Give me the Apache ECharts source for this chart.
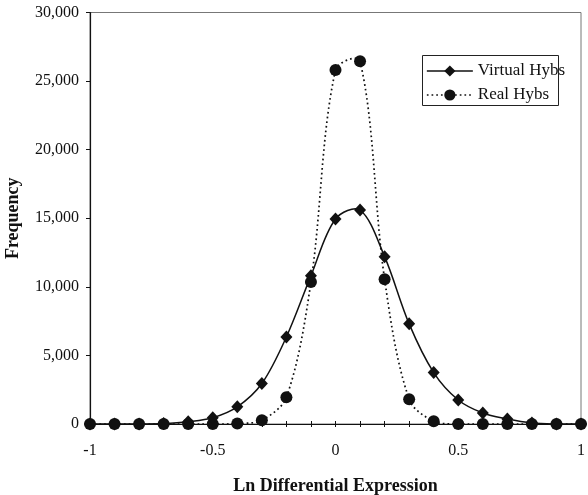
<!DOCTYPE html>
<html>
<head>
<meta charset="utf-8">
<script src="https://cdn.jsdelivr.net/npm/echarts@6/dist/echarts.min.js"></script>
<style>
  html, body { margin: 0; padding: 0; background: #fff; }
  #chart { width: 588px; height: 495px; }
</style>
</head>
<body>
<div id="chart"></div>
<script>
// Ln differential expression bins (-1 .. 1, step 0.1)
const lnExpression = [-1, -0.9, -0.8, -0.7, -0.6, -0.5, -0.4, -0.3, -0.2, -0.1, 0,
                      0.1, 0.2, 0.3, 0.4, 0.5, 0.6, 0.7, 0.8, 0.9, 1];
// Frequency counts per bin
const virtualHybs = [0, 0, 0, 30, 170, 460, 1250, 2950, 6350, 10800, 14950,
                     15600, 12200, 7300, 3750, 1750, 800, 370, 80, 0, 0];
const realHybs = [0, 0, 0, 0, 0, 0, 30, 280, 1950, 10350, 25800,
                  26450, 10550, 1800, 200, 0, 0, 0, 0, 0, 0];
const yTicks = [0, 5000, 10000, 15000, 20000, 25000, 30000];

const serif = '"Liberation Serif", "DejaVu Serif", serif';
const ink = '#111';
const toPairs = (xs, ys) => xs.map((x, i) => [x, ys[i]]);
const withCommas = v => String(v).replace(/\B(?=(\d{3})+(?!\d))/g, ',');

const virtualLine = { color: ink, width: 1.5, type: 'solid' };
const realLine = { color: ink, width: 1.7, type: [1.7, 3] };

// Spreadsheet-style smoothed curve: cubic Bezier segments whose tangents
// follow the neighbouring points, scaled by the relative segment lengths
// so short hops near a peak do not overshoot. Points come from the grid's
// own coordinate system.
function smoothCurve(values, lineStyle) {
  const dist = (a, b) => Math.hypot(b[0] - a[0], b[1] - a[1]);
  return function (params, api) {
    if (params.dataIndex !== 0) return null;
    const pts = lnExpression.map((x, i) => api.coord([x, values[i]]));
    const n = pts.length;
    const children = [];
    for (let i = 0; i < n - 1; i++) {
      const p0 = pts[Math.max(i - 1, 0)];
      const p1 = pts[i];
      const p2 = pts[i + 1];
      const p3 = pts[Math.min(i + 2, n - 1)];
      const d01 = dist(p0, p1), d12 = dist(p1, p2), d23 = dist(p2, p3);
      const f1 = (d01 + d12) > 0 ? d12 / (d01 + d12) / 3 : 0;
      const f2 = (d12 + d23) > 0 ? d12 / (d12 + d23) / 3 : 0;
      children.push({
        type: 'bezierCurve',
        shape: {
          x1: p1[0], y1: p1[1], x2: p2[0], y2: p2[1],
          cpx1: p1[0] + (p2[0] - p0[0]) * f1, cpy1: p1[1] + (p2[1] - p0[1]) * f1,
          cpx2: p2[0] - (p3[0] - p1[0]) * f2, cpy2: p2[1] - (p3[1] - p1[1]) * f2
        },
        style: {
          fill: null, stroke: lineStyle.color, lineWidth: lineStyle.width,
          lineDash: lineStyle.type === 'solid' ? null : lineStyle.type
        }
      });
    }
    return { type: 'group', children };
  };
}

const chart = echarts.init(document.getElementById('chart'), null, { renderer: 'canvas' });

chart.setOption({
  animation: false,
  backgroundColor: '#fff',
  grid: {
    left: 90, right: 7, top: 12.5, bottom: 71,
    outerBoundsMode: 'none',
    show: true, borderColor: '#777', borderWidth: 1, backgroundColor: 'transparent'
  },
  graphic: [{
    type: 'rect', z: 50,
    shape: { x: 422.5, y: 55.5, width: 136, height: 50 },
    style: { fill: '#fff', stroke: '#222', lineWidth: 1 }
  }],
  legend: {
    z: 60,
    orient: 'vertical',
    left: 422, top: 62.5,
    padding: [0, 0, 0, 4],
    itemWidth: 46, itemHeight: 14, itemGap: 7,
    textStyle: { fontFamily: serif, fontSize: 17, color: ink, padding: [0, 0, 0, 0] },
    data: [
      { name: 'Virtual Hybs', lineStyle: Object.assign({ opacity: 1 }, virtualLine) },
      { name: 'Real Hybs', lineStyle: Object.assign({ opacity: 1 }, realLine) }
    ]
  },
  xAxis: [{
    type: 'value', min: -1, max: 1, interval: 0.1,
    name: 'Ln Differential Expression',
    nameLocation: 'middle', nameGap: 53,
    nameTextStyle: { fontFamily: serif, fontSize: 18, fontWeight: 'bold', color: ink },
    axisLine: { onZero: false, lineStyle: { color: ink, width: 1.2 } },
    axisTick: { show: true, inside: false, length: 3, lineStyle: { color: ink } },
    splitLine: { show: false },
    axisLabel: {
      fontFamily: serif, fontSize: 16, color: ink, margin: 19,
      formatter: v => {
        const r = Math.round(v * 10) / 10;
        return Math.abs(r * 2 - Math.round(r * 2)) < 1e-6 ? String(r) : '';
      }
    }
  }, {
    type: 'value', min: -1, max: 1, interval: 0.1, position: 'bottom',
    axisLine: { show: false, onZero: false },
    axisTick: { show: true, inside: true, length: 3, lineStyle: { color: ink } },
    axisLabel: { show: false },
    splitLine: { show: false }
  }],
  yAxis: {
    type: 'value', min: 0, max: 30000, interval: 5000,
    name: 'Frequency',
    nameLocation: 'middle', nameGap: 68,
    nameTextStyle: { fontFamily: serif, fontSize: 18, fontWeight: 'bold', color: ink },
    axisLine: { show: true, onZero: false, lineStyle: { color: ink, width: 1.2 } },
    axisTick: { show: true, inside: false, length: 4, lineStyle: { color: ink } },
    splitLine: { show: false },
    axisLabel: {
      fontFamily: serif, fontSize: 16, color: ink, margin: 11,
      formatter: v => yTicks.includes(v) ? withCommas(v) : ''
    }
  },
  series: [{
    name: 'Virtual Hybs curve',
    type: 'custom',
    data: toPairs(lnExpression, virtualHybs),
    encode: { x: 0, y: 1 },
    renderItem: smoothCurve(virtualHybs, virtualLine),
    clip: false, silent: true, z: 3
  }, {
    name: 'Real Hybs curve',
    type: 'custom',
    data: toPairs(lnExpression, realHybs),
    encode: { x: 0, y: 1 },
    renderItem: smoothCurve(realHybs, realLine),
    clip: false, silent: true, z: 2
  }, {
    name: 'Virtual Hybs',
    type: 'line',
    data: toPairs(lnExpression, virtualHybs),
    clip: false,
    symbol: 'diamond', symbolSize: [12, 13],
    lineStyle: Object.assign({ opacity: 0 }, virtualLine),
    itemStyle: { color: ink },
    z: 5
  }, {
    name: 'Real Hybs',
    type: 'line',
    data: toPairs(lnExpression, realHybs),
    clip: false,
    symbol: 'circle', symbolSize: 12,
    lineStyle: Object.assign({ opacity: 0 }, realLine),
    itemStyle: { color: ink },
    z: 4
  }]
});
</script>
</body>
</html>
